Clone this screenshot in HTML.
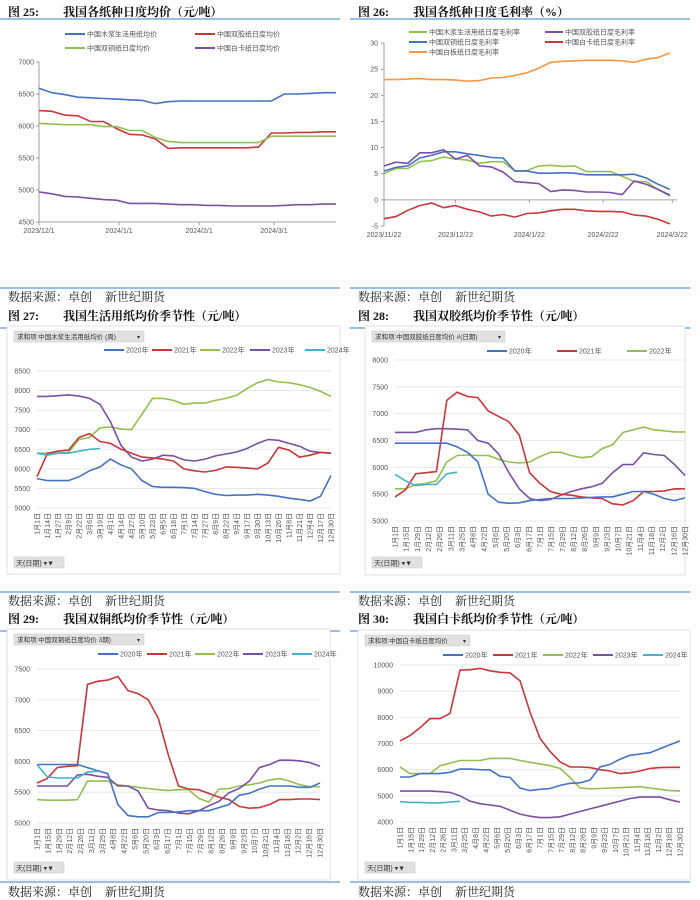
<!DOCTYPE html>
<html><head><meta charset="utf-8">
<style>
html,body{margin:0;padding:0;background:#fff;}
svg{display:block;font-family:"Liberation Sans","Noto Sans CJK SC",sans-serif;}
.ttl{font-family:"Liberation Serif","Noto Serif CJK SC",serif;font-weight:bold;font-size:12px;fill:#111;}
.src{font-family:"Liberation Serif","Noto Serif CJK SC",serif;font-size:12px;fill:#222;white-space:pre;}
.tk{font-size:7px;fill:#555;}
.lg{font-size:7px;fill:#555;}
</style></head><body>
<svg id="root" width="700" height="900" viewBox="0 0 700 900" xmlns="http://www.w3.org/2000/svg"></svg>
<script>
// ---------- Chart 25 data (day offsets from 2023/12/1, step 5) ----------
const c25Days=[0,5,10,15,20,25,30,35,40,45,50,55,60,65,70,75,80,85,90,95,100,105,110,115];
const c25Blue=[6590,6520,6490,6450,6440,6430,6420,6410,6400,6350,6380,6390,6390,6390,6390,6390,6390,6390,6390,6500,6500,6510,6520,6520];
const c25Red=[6240,6230,6170,6160,6070,6070,5960,5870,5860,5800,5650,5660,5660,5660,5660,5660,5660,5670,5890,5890,5900,5900,5910,5910];
const c25Green=[6040,6030,6020,6020,6020,5990,5990,5930,5930,5820,5760,5740,5740,5740,5740,5740,5740,5740,5840,5840,5840,5840,5840,5840];
const c25Purple=[4970,4940,4900,4890,4870,4850,4840,4790,4790,4790,4780,4770,4770,4760,4760,4750,4750,4750,4750,4760,4770,4770,4780,4780];
const c25Ticks=[4500,5000,5500,6000,6500,7000];
const c25XLabels=["2023/12/1","2024/1/1","2024/2/1","2024/3/1"];
const c25XLabelDays=[0,31,62,91];
// ---------- Chart 26 data (day offsets from 2023/11/22, step 5) ----------
const c26Days=[0,5,10,15,20,25,30,35,40,45,50,55,60,65,70,75,80,85,90,95,100,105,110,115,120];
const c26Orange=[23,23,23.1,23.2,23,23,22.9,22.7,22.8,23.3,23.4,23.8,24.3,25.2,26.3,26.5,26.6,26.7,26.7,26.7,26.6,26.3,26.9,27.2,28.1];
const c26Green=[5,6,6,7.3,7.5,8.2,7.8,7.6,7,7.3,7.3,5.5,5.6,6.5,6.6,6.4,6.5,5.4,5.4,5.4,4.5,3.5,3.5,2,1];
const c26Blue=[5.5,6.2,6.5,8,8.5,9.2,9.2,8.8,8.5,8.1,8,5.5,5.5,5.1,5.1,5.2,5.1,4.8,4.8,4.8,4.8,4.9,4.2,3,2];
const c26Purple=[6.5,7.2,7,9,9,9.6,7.8,8.5,6.5,6.3,5.3,3.5,3.3,3.1,1.6,1.9,1.8,1.5,1.5,1.4,1.0,3.6,3,2,0.8];
const c26Red=[-3.6,-3.2,-2,-1.1,-0.6,-1.5,-1.1,-1.8,-2.3,-3.1,-2.8,-3.3,-2.6,-2.5,-2.1,-1.8,-1.8,-2.1,-2.2,-2.2,-2.3,-2.9,-3.1,-3.7,-4.6];
const c26Ticks=[-5,0,5,10,15,20,25,30];
const c26XLabels=["2023/11/22","2023/12/22","2024/1/22","2024/2/22","2024/3/22"];
const c26XLabelDays=[0,30,61,92,121];
// ---------- Seasonal charts (values every 13 days from 1月1日) ----------
const seasonLabels=["1月1日","1月14日","1月27日","2月9日","2月22日","3月6日","3月19日","4月1日","4月14日","4月27日","5月10日","5月23日","6月5日","6月18日","7月1日","7月14日","7月27日","8月9日","8月22日","9月4日","9月17日","9月30日","10月13日","10月26日","11月8日","11月21日","12月4日","12月17日","12月30日"];
const seasonLabels2=["1月1日","1月15日","1月29日","2月12日","2月26日","3月11日","3月25日","4月8日","4月22日","5月6日","5月20日","6月3日","6月17日","7月1日","7月15日","7月29日","8月12日","8月26日","9月9日","9月23日","10月7日","10月21日","11月4日","11月18日","12月2日","12月16日","12月30日"];
const c27y2020=[5750,5700,5700,5700,5800,5950,6050,6250,6100,6000,5700,5550,5530,5530,5520,5500,5420,5350,5320,5330,5330,5350,5330,5300,5250,5220,5180,5300,5830];
const c27y2021=[5800,6400,6450,6480,6800,6900,6700,6650,6500,6400,6300,6280,6250,6200,6000,5950,5920,5960,6050,6040,6020,6000,6150,6550,6480,6300,6350,6420,6400];
const c27y2022=[6400,6400,6400,6420,6750,6800,7050,7070,7020,7000,7400,7800,7800,7750,7650,7680,7680,7750,7800,7880,8050,8200,8280,8220,8200,8150,8080,7980,7850];
const c27y2023=[7850,7850,7870,7890,7860,7800,7650,7200,6600,6300,6200,6250,6350,6330,6230,6200,6250,6330,6380,6430,6520,6650,6750,6730,6650,6580,6450,6420,6400];
const c27y2024=[6400,6350,6400,6400,6450,6500,6520];
const c27Ticks=[5000,5500,6000,6500,7000,7500,8000,8500];
const c28y2020=[6450,6450,6450,6450,6450,6450,6380,6280,6100,5500,5350,5330,5340,5380,5400,5420,5420,5420,5430,5440,5450,5450,5500,5550,5550,5500,5420,5380,5430];
const c28y2021=[5450,5580,5880,5900,5920,7250,7400,7320,7300,7050,6950,6850,6600,5900,5700,5550,5500,5480,5450,5430,5420,5320,5300,5380,5550,5550,5560,5600,5600];
const c28y2022=[5600,5600,5680,5700,5750,6100,6220,6230,6220,6220,6150,6100,6080,6100,6200,6280,6280,6220,6180,6200,6350,6420,6650,6700,6750,6700,6680,6660,6660];
const c28y2023=[6650,6650,6650,6700,6720,6720,6710,6700,6500,6450,6250,5900,5600,5420,5380,5400,5480,5550,5600,5640,5700,5900,6050,6050,6270,6240,6220,6050,5850];
const c28y2024=[5870,5750,5660,5680,5680,5880,5910];
const c28Ticks=[5000,5500,6000,6500,7000,7500,8000];
const c29y2020=[5950,5950,5950,5950,5950,5900,5850,5800,5300,5120,5100,5100,5170,5170,5180,5200,5200,5200,5250,5300,5450,5480,5550,5600,5600,5600,5580,5580,5650];
const c29y2021=[5650,5720,5900,5920,5930,7250,7300,7320,7380,7150,7100,7000,6700,6100,5600,5550,5540,5480,5420,5380,5270,5240,5250,5300,5380,5380,5390,5390,5380];
const c29y2022=[5380,5370,5370,5370,5380,5680,5680,5680,5620,5600,5580,5560,5540,5530,5540,5540,5400,5340,5550,5560,5600,5620,5650,5700,5720,5680,5620,5590,5590];
const c29y2023=[5600,5600,5600,5600,5780,5790,5760,5740,5600,5600,5520,5240,5210,5200,5160,5150,5200,5280,5350,5490,5560,5680,5900,5950,6020,6020,6010,5980,5920];
const c29y2024=[5950,5750,5730,5730,5730,5830,5840];
const c29Ticks=[5000,5500,6000,6500,7000,7500];
const c30y2020=[5720,5720,5850,5850,5850,5900,6020,6020,6000,5990,5750,5700,5300,5200,5250,5280,5400,5480,5500,5600,6100,6200,6400,6550,6600,6650,6800,6950,7100];
const c30y2021=[7100,7300,7600,7950,7950,8150,9800,9820,9870,9780,9720,9700,9400,8200,7200,6700,6300,6100,6100,6080,6000,5950,5850,5880,5950,6050,6080,6090,6090];
const c30y2022=[6100,5850,5850,5850,6150,6250,6350,6350,6350,6430,6430,6430,6350,6280,6220,6150,6050,5700,5300,5270,5280,5300,5310,5330,5350,5300,5250,5200,5180];
const c30y2023=[5180,5180,5180,5180,5160,5130,5000,4800,4700,4650,4600,4450,4300,4220,4170,4170,4200,4300,4400,4500,4600,4700,4800,4900,4950,4950,4950,4850,4760];
const c30y2024=[4780,4750,4750,4730,4730,4760,4790];
const c30Ticks=[4000,5000,6000,7000,8000,9000,10000];

const NS="http://www.w3.org/2000/svg";
const root=document.getElementById('root');
const C={blue:"#4472c4",red:"#c8373a",green:"#92c050",purple:"#7b4fa3",cyan:"#45b0cf",orange:"#f79646"};
function mk(tag,attrs,parent,text){const e=document.createElementNS(NS,tag);for(const k in attrs)e.setAttribute(k,attrs[k]);if(text!==undefined)e.textContent=text;(parent||root).appendChild(e);return e;}
function group(name){const g=mk('g',{});


return g;}
function linePath(xs,ys,xf,yf){return xs.map((x,i)=>(i?'L':'M')+xf(x).toFixed(1)+' '+yf(ys[i]).toFixed(1)).join(' ');}
function frame(n,x,yTitle,title,yRule,ySrcRule,ySrc,w){
  const g=group('figure-'+n+'-header');
  const t=mk('text',{x:x+8,y:yTitle,class:'ttl'},g,'图  '+n+':');
  
  
  const t2=mk('text',{x:x+63,y:yTitle,class:'ttl'},g,title);
  
  
  mk('line',{x1:x,x2:x+w,y1:yRule,y2:yRule,stroke:'#5b9bd5','stroke-width':1.2},g);
  mk('line',{x1:x,x2:x+w,y1:ySrcRule,y2:ySrcRule,stroke:'#5b9bd5','stroke-width':1.2},g);
  const s=mk('text',{x:x+8,y:ySrc,class:'src'},g,'数据来源：卓创');
  
  
  const s2=mk('text',{x:x+105,y:ySrc,class:'src'},g,'新世纪期货');
  
  
}
function legendEntry(g,x,y,color,label,len){
  const e=mk('g',{},g);
  
  
  mk('line',{x1:x,x2:x+len,y1:y,y2:y,stroke:color,'stroke-width':2},e);
  mk('text',{x:x+len+2,y:y+2.5,class:'lg'},e,label);
}
// ---------- Chart 25 ----------
(function(){
  frame(25,0,16,'我国各纸种日度均价（元/吨）',19,288,301,340);
  const g=group('chart-25-plot');
  const X0=39,X1=336,YT=62,YB=222;
  const xf=d=>X0+(d/115)*(X1-X0), yf=v=>YB-(v-4500)/2500*(YB-YT);
  mk('line',{x1:X0,x2:X0,y1:YT,y2:YB,stroke:'#888','stroke-width':0.8},g);
  mk('line',{x1:X0,x2:X1,y1:YB,y2:YB,stroke:'#888','stroke-width':0.8},g);
  c25Ticks.forEach(v=>{mk('line',{x1:X0-3,x2:X0,y1:yf(v),y2:yf(v),stroke:'#888','stroke-width':0.8},g);
    const t=mk('text',{x:X0-5,y:yf(v)+2.5,class:'tk','text-anchor':'end'},g,v);
    
    });
  c25XLabels.forEach((l,i)=>{const x=xf(c25XLabelDays[i]);mk('line',{x1:x,x2:x,y1:YB,y2:YB+3,stroke:'#888','stroke-width':0.8},g);
    const t=mk('text',{x:x,y:YB+11,class:'tk','text-anchor':'middle'},g,l);
    
    });
  [[c25Blue,C.blue,'series-pulp-tissue'],[c25Red,C.red,'series-offset'],[c25Green,C.green,'series-coated'],[c25Purple,C.purple,'series-ivory-board']].forEach(s=>{
    const p=mk('path',{d:linePath(c25Days,s[0],xf,yf),fill:'none',stroke:s[1],'stroke-width':1.6},g);
    
    });
  const lg=group('chart-25-legend');
  legendEntry(lg,65,34,C.blue,'中国木浆生活用纸均价',20);
  legendEntry(lg,195,34,C.red,'中国双胶纸日度均价',20);
  legendEntry(lg,65,48,C.green,'中国双铜纸日度均价',20);
  legendEntry(lg,195,48,C.purple,'中国白卡纸日度均价',20);
})();
// ---------- Chart 26 ----------
(function(){
  frame(26,350,16,'我国各纸种日度毛利率（%）',19,288,301,340);
  const g=group('chart-26-plot');
  const X0=384,X1=677,YT=43,YB=226;
  const xf=d=>X0+(d/123)*(X1-X0), yf=v=>YB-(v+5)/35*(YB-YT);
  mk('line',{x1:X0,x2:X0,y1:YT,y2:YB,stroke:'#888','stroke-width':0.8},g);
  mk('line',{x1:X0,x2:X1,y1:yf(0),y2:yf(0),stroke:'#888','stroke-width':0.8},g);
  c26Ticks.forEach(v=>{mk('line',{x1:X0-3,x2:X0,y1:yf(v),y2:yf(v),stroke:'#888','stroke-width':0.8},g);
    const t=mk('text',{x:X0-6,y:yf(v)+2.5,class:'tk','text-anchor':'end'},g,v);
    
    });
  c26XLabels.forEach((l,i)=>{const x=xf(c26XLabelDays[i]);mk('line',{x1:x,x2:x,y1:yf(0),y2:yf(0)+3,stroke:'#888','stroke-width':0.8},g);
    const t=mk('text',{x:x,y:YB+11,class:'tk','text-anchor':'middle'},g,l);
    
    });
  [[c26Orange,C.orange,'series-whiteboard'],[c26Green,C.green,'series-pulp-tissue'],[c26Blue,C.blue,'series-coated'],[c26Purple,C.purple,'series-offset'],[c26Red,C.red,'series-ivory-board']].forEach(s=>{
    const p=mk('path',{d:linePath(c26Days,s[0],xf,yf),fill:'none',stroke:s[1],'stroke-width':1.6},g);
    
    });
  const lg=group('chart-26-legend');
  legendEntry(lg,409,32,C.green,'中国木浆生活用纸日度毛利率',18);
  legendEntry(lg,545,32,C.purple,'中国双胶纸日度毛利率',18);
  legendEntry(lg,409,42,C.blue,'中国双铜纸日度毛利率',18);
  legendEntry(lg,545,42,C.red,'中国白卡纸日度毛利率',18);
  legendEntry(lg,409,52,C.orange,'中国白板纸日度毛利率',18);
})();
// ---------- Seasonal chart builder ----------
function seasonal(o){
  frame(o.n,o.fx,o.ty,o.title,o.ty+8,o.srcRule,o.srcY,340);
  const g=group('chart-'+o.n+'-plot');
  mk('rect',{x:o.bx,y:o.by,width:o.bw,height:o.bh,fill:'#fff',stroke:'#d9d9d9','stroke-width':0.8},g);
  const fb=mk('g',{},g);
  
  
  mk('rect',{x:o.bx+7,y:o.by+5,width:o.fw,height:11,fill:'#e1e1e1',stroke:'#c8c8c8','stroke-width':0.5},fb);
  mk('text',{x:o.bx+10,y:o.by+13,style:'font-size:6.5px;fill:#333'},fb,o.field);
  mk('text',{x:o.bx+o.fw,y:o.by+13,style:'font-size:6px;fill:#333'},fb,'▾');
  const db=mk('g',{},g);
  
  
  mk('rect',{x:o.bx+7,y:o.dy,width:50,height:11,fill:'#e1e1e1',stroke:'#c8c8c8','stroke-width':0.5},db);
  mk('text',{x:o.bx+9,y:o.dy+8.5,style:'font-size:7px;fill:#333'},db,'天(日期)  ▾▼');
  const vmin=o.ticks[0],vmax=o.ticks[o.ticks.length-1];
  const xf=d=>o.X0+d/364*(o.X1-o.X0), yf=v=>o.YB-(v-vmin)/(vmax-vmin)*(o.YB-o.YT);
  const labStep=364/(o.labels.length-1);
  o.ticks.forEach(v=>{mk('line',{x1:o.X0,x2:o.X1,y1:yf(v),y2:yf(v),stroke:'#e3e3e3','stroke-width':0.8},g);
    const t=mk('text',{x:o.X0-7,y:yf(v)+2.5,class:'tk','text-anchor':'end'},g,v);
    
    });
  o.labels.forEach((l,i)=>{const x=xf(i*labStep);
    const t=mk('text',{x:0,y:0,class:'tk','text-anchor':'end',transform:'translate('+(x+2.5)+','+(o.YB+5)+') rotate(-90)'},g,l);
    
    });
  const days=a=>a.map((_,i)=>i*13);
  o.series.forEach(s=>{
    const p=mk('path',{d:linePath(days(s[0]),s[0],xf,yf),fill:'none',stroke:s[1],'stroke-width':1.6},g);
    
    });
  const lg=group('chart-'+o.n+'-legend');
  o.legend.forEach(e=>legendEntry(lg,e[0],o.ly,e[1],e[2],20));
}
seasonal({n:27,fx:0,ty:320,title:'我国生活用纸均价季节性（元/吨）',srcRule:592,srcY:605,
  bx:7,by:326,bw:333,bh:248,fw:130,field:'求和项:中国木浆生活用纸均价  (周)',dy:557,
  X0:37,X1:331,YT:371,YB:508,ticks:c27Ticks,labels:seasonLabels,ly:350,
  series:[[c27y2022,C.green,'2022'],[c27y2023,C.purple,'2023'],[c27y2021,C.red,'2021'],[c27y2020,C.blue,'2020'],[c27y2024,C.cyan,'2024']],
  legend:[[104,C.blue,'2020年'],[152,C.red,'2021年'],[200,C.green,'2022年'],[250,C.purple,'2023年'],[305,C.cyan,'2024年']]});
seasonal({n:28,fx:350,ty:320,title:'我国双胶纸均价季节性（元/吨）',srcRule:592,srcY:605,
  bx:365,by:326,bw:320,bh:249,fw:133,field:'求和项:中国双胶纸日度均价  #(日期)',dy:557,
  X0:395,X1:685,YT:360,YB:521,ticks:c28Ticks,labels:seasonLabels2,ly:351,
  series:[[c28y2022,C.green,'2022'],[c28y2023,C.purple,'2023'],[c28y2021,C.red,'2021'],[c28y2020,C.blue,'2020'],[c28y2024,C.cyan,'2024']],
  legend:[[487,C.blue,'2020年'],[557,C.red,'2021年'],[627,C.green,'2022年']]});
seasonal({n:29,fx:0,ty:623,title:'我国双铜纸均价季节性（元/吨）',srcRule:882,srcY:896,
  bx:7,by:629,bw:323,bh:251,fw:130,field:'求和项:中国双铜纸日度均价  3期)',dy:862,
  X0:37,X1:320,YT:669,YB:823,ticks:c29Ticks,labels:seasonLabels2,ly:654,
  series:[[c29y2022,C.green,'2022'],[c29y2023,C.purple,'2023'],[c29y2021,C.red,'2021'],[c29y2020,C.blue,'2020'],[c29y2024,C.cyan,'2024']],
  legend:[[98,C.blue,'2020年'],[147,C.red,'2021年'],[195,C.green,'2022年'],[243,C.purple,'2023年'],[292,C.cyan,'2024年']]});
seasonal({n:30,fx:350,ty:623,title:'我国白卡纸均价季节性（元/吨）',srcRule:882,srcY:896,
  bx:358,by:630,bw:332,bh:250,fw:105,field:'求和项:中国白卡纸日度均价',dy:862,
  X0:400,X1:680,YT:665,YB:822,ticks:c30Ticks,labels:seasonLabels2,ly:655,
  series:[[c30y2022,C.green,'2022'],[c30y2023,C.purple,'2023'],[c30y2021,C.red,'2021'],[c30y2020,C.blue,'2020'],[c30y2024,C.cyan,'2024']],
  legend:[[443,C.blue,'2020年'],[493,C.red,'2021年'],[543,C.green,'2022年'],[593,C.purple,'2023年'],[643,C.cyan,'2024年']]});
</script>
</body></html>
